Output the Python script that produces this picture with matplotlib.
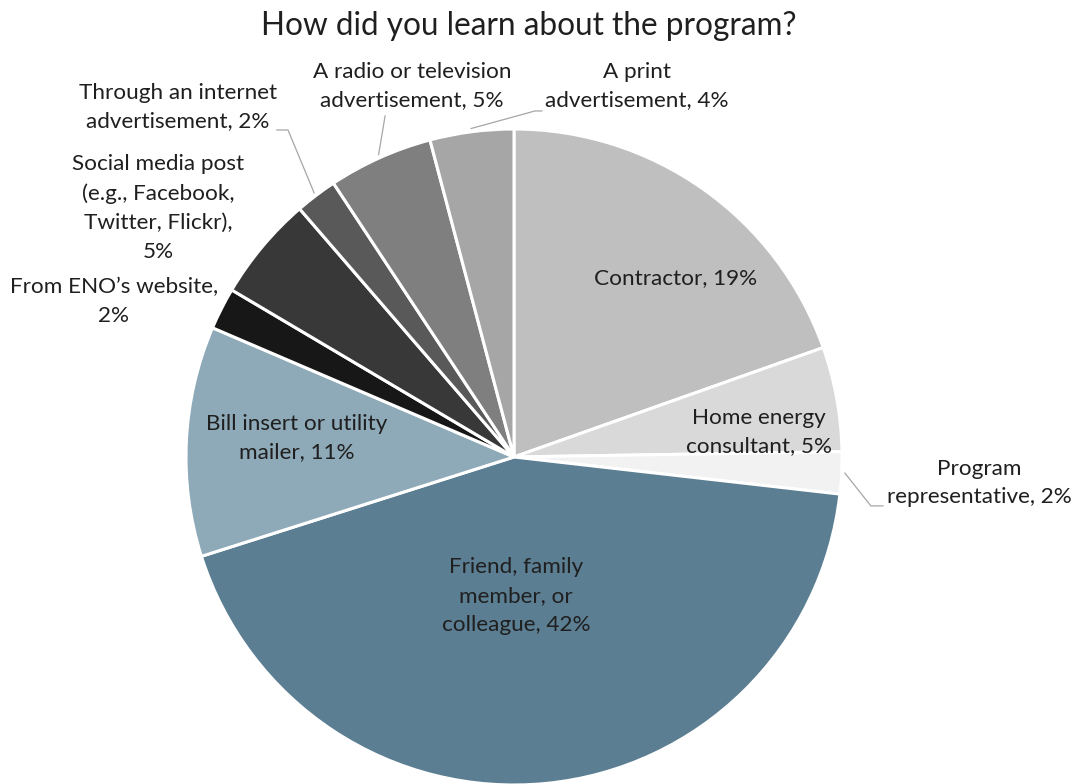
import numpy as np
import matplotlib.pyplot as plt

plt.rcParams['font.family'] = ['Lato', 'DejaVu Sans']

TITLE = "How did you learn about the program?"

sources = [
    "Contractor",
    "Home energy\nconsultant",
    "Program\nrepresentative",
    "Friend, family\nmember, or\ncolleague",
    "Bill insert or utility\nmailer",
    "From ENO\u2019s website,\n",
    "Social media post\n(e.g., Facebook,\nTwitter, Flickr),\n",
    "Through an internet\nadvertisement",
    "A radio or television\nadvertisement",
    "A print\nadvertisement",
]
shares = [19, 5, 2, 42, 11, 2, 5, 2, 5, 4]
colors = ["#BFBFBF", "#D9D9D9", "#F2F2F2", "#5B7E92", "#8EA9B8",
          "#171717", "#383838", "#595959", "#7F7F7F", "#A6A6A6"]

# label centres in axes data units (pie radius = 1)
label_xy = [(0.494, 0.546), (0.747, 0.076), (1.418, -0.079), (0.006, -0.424),
            (-0.662, 0.058), (-1.220, 0.473), (-1.085, 0.759), (-1.024, 1.067),
            (-0.311, 1.131), (0.375, 1.131)]

# leader lines: wedge index -> (bend point, end point)
leaders = {
    2: ((1.088, -0.149), (1.125, -0.149)),
    7: ((-0.689, 0.997), (-0.723, 0.997)),
    8: ((-0.393, 1.040), (-0.393, 1.040)),
    9: ((0.064, 1.055), (0.085, 1.055)),
}

TEXT_COLOR = "#1F1F1F"
W, H = 1076, 784
cx, cy, R = 514, 457, 328

fig = plt.figure(figsize=(W / 100, H / 100), dpi=100)
ax = fig.add_axes([(cx - R) / W, (H - cy - R) / H, 2 * R / W, 2 * R / H])

wedges, _ = ax.pie(
    shares,
    colors=colors,
    startangle=90,
    counterclock=False,
    radius=1.0,
    wedgeprops=dict(edgecolor="white", linewidth=2.2),
)
ax.set_xlim(-1, 1)
ax.set_ylim(-1, 1)
ax.set_aspect("equal")
ax.axis("off")

for i, (name, val) in enumerate(zip(sources, shares)):
    if name.endswith("\n"):
        text = f"{name}{val}%"
    else:
        text = f"{name}, {val}%"
    x, y = label_xy[i]
    ax.text(x, y, text, ha="center", va="center", fontsize=16.2,
            color=TEXT_COLOR, linespacing=1.55, clip_on=False)

for i, (bend, end) in leaders.items():
    w = wedges[i]
    mid = np.deg2rad((w.theta1 + w.theta2) / 2)
    start = (1.01 * np.cos(mid), 1.01 * np.sin(mid))
    xs = [start[0], bend[0], end[0]]
    ys = [start[1], bend[1], end[1]]
    ax.plot(xs, ys, color="#A6A6A6", linewidth=0.9, clip_on=False)

fig.text(529 / W, 1 - 26 / H, TITLE, ha="center", va="center",
         fontsize=22.7, color=TEXT_COLOR)

fig.savefig("out.png", dpi=100, facecolor="white")
